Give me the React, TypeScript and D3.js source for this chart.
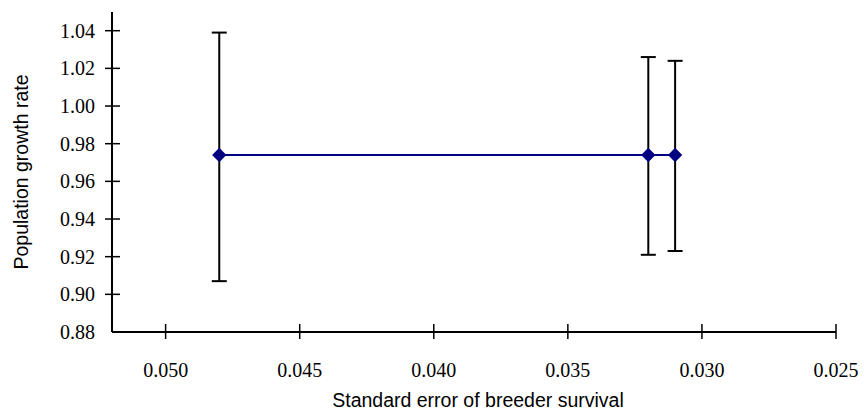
import React, { useRef, useEffect } from 'react';
import * as d3 from 'd3';

// standard error of breeder survival (x) vs population growth rate (y)
const seValues = [0.048, 0.032, 0.031];
const growthMean = [0.974, 0.974, 0.974];
const growthUpper = [1.039, 1.026, 1.024];
const growthLower = [0.907, 0.921, 0.923];

const xTicks = [0.05, 0.045, 0.04, 0.035, 0.03, 0.025];
const yTicks = [0.88, 0.9, 0.92, 0.94, 0.96, 0.98, 1.0, 1.02, 1.04];

const App: React.FC = () => {
  const svgRef = useRef<SVGSVGElement>(null);

  useEffect(() => {
    if (!svgRef.current) return;
    const svg = d3.select(svgRef.current);
    svg.selectAll('*').remove();

    const width = 864;
    const height = 412;
    const left = 112;
    const right = 836;
    const bottom = 332;
    const axisTop = 12;

    svg.attr('width', width).attr('height', height);

    const x = d3.scaleLinear().domain([0.052, 0.025]).range([left, right]);
    const y = d3.scaleLinear().domain([0.88, 1.04]).range([bottom, 30.7]);

    const serif = '"Liberation Serif", "Times New Roman", serif';
    const sans = '"Liberation Sans", Arial, sans-serif';

    // axes lines
    svg.append('line')
      .attr('x1', left).attr('x2', left)
      .attr('y1', axisTop).attr('y2', bottom)
      .attr('stroke', '#000').attr('stroke-width', 2);
    svg.append('line')
      .attr('x1', left).attr('x2', right)
      .attr('y1', bottom).attr('y2', bottom)
      .attr('stroke', '#000').attr('stroke-width', 2);

    // y ticks (cross style)
    const yt = svg.append('g');
    yt.selectAll('line')
      .data(yTicks.slice(1))
      .enter()
      .append('line')
      .attr('x1', left - 7).attr('x2', left + 8)
      .attr('y1', d => y(d)).attr('y2', d => y(d))
      .attr('stroke', '#000').attr('stroke-width', 1.5);
    yt.selectAll('text')
      .data(yTicks)
      .enter()
      .append('text')
      .attr('x', 95)
      .attr('y', d => y(d))
      .attr('dy', '0.35em')
      .attr('text-anchor', 'end')
      .style('font-family', serif)
      .style('font-size', '20px')
      .text(d => d3.format('.2f')(d));

    // x ticks
    const xt = svg.append('g');
    xt.selectAll('line')
      .data(xTicks)
      .enter()
      .append('line')
      .attr('x1', d => x(d)).attr('x2', d => x(d))
      .attr('y1', bottom - 8).attr('y2', bottom + 7)
      .attr('stroke', '#000').attr('stroke-width', 1.5);
    xt.selectAll('text')
      .data(xTicks)
      .enter()
      .append('text')
      .attr('x', d => x(d))
      .attr('y', 370)
      .attr('dy', '0.35em')
      .attr('text-anchor', 'middle')
      .style('font-family', serif)
      .style('font-size', '20px')
      .text(d => d3.format('.3f')(d));

    // axis titles
    svg.append('text')
      .attr('x', 478)
      .attr('y', 407)
      .attr('text-anchor', 'middle')
      .style('font-family', sans)
      .style('font-size', '19.5px')
      .text('Standard error of breeder survival');
    svg.append('text')
      .attr('transform', `translate(28, ${(axisTop + bottom) / 2}) rotate(-90)`)
      .attr('text-anchor', 'middle')
      .style('font-family', sans)
      .style('font-size', '19.5px')
      .text('Population growth rate');

    // error bars
    const idx = d3.range(seValues.length);
    const bars = svg.append('g').attr('stroke', '#000').attr('stroke-width', 2);
    bars.selectAll('line.v')
      .data(idx)
      .enter()
      .append('line')
      .attr('class', 'v')
      .attr('x1', i => x(seValues[i])).attr('x2', i => x(seValues[i]))
      .attr('y1', i => y(growthUpper[i])).attr('y2', i => y(growthLower[i]));
    bars.selectAll('line.top')
      .data(idx)
      .enter()
      .append('line')
      .attr('class', 'top')
      .attr('x1', i => x(seValues[i]) - 7.5).attr('x2', i => x(seValues[i]) + 7.5)
      .attr('y1', i => y(growthUpper[i])).attr('y2', i => y(growthUpper[i]));
    bars.selectAll('line.bot')
      .data(idx)
      .enter()
      .append('line')
      .attr('class', 'bot')
      .attr('x1', i => x(seValues[i]) - 7.5).attr('x2', i => x(seValues[i]) + 7.5)
      .attr('y1', i => y(growthLower[i])).attr('y2', i => y(growthLower[i]));

    // mean line
    const line = d3.line<number>()
      .x(i => x(seValues[i]))
      .y(i => y(growthMean[i]));
    svg.append('path')
      .datum(idx)
      .attr('d', line)
      .attr('fill', 'none')
      .attr('stroke', '#000080')
      .attr('stroke-width', 2);

    // diamond markers
    const diamond = d3.symbol().type(d3.symbolDiamond2).size(130);
    svg.selectAll('path.pt')
      .data(idx)
      .enter()
      .append('path')
      .attr('class', 'pt')
      .attr('d', diamond)
      .attr('transform', i => `translate(${x(seValues[i])},${y(growthMean[i])})`)
      .attr('fill', '#000080');
  }, []);

  return (
    <svg
      ref={svgRef}
      style={{ position: 'absolute', left: 0, top: 0, background: '#fff' }}
    ></svg>
  );
};

export default App;
